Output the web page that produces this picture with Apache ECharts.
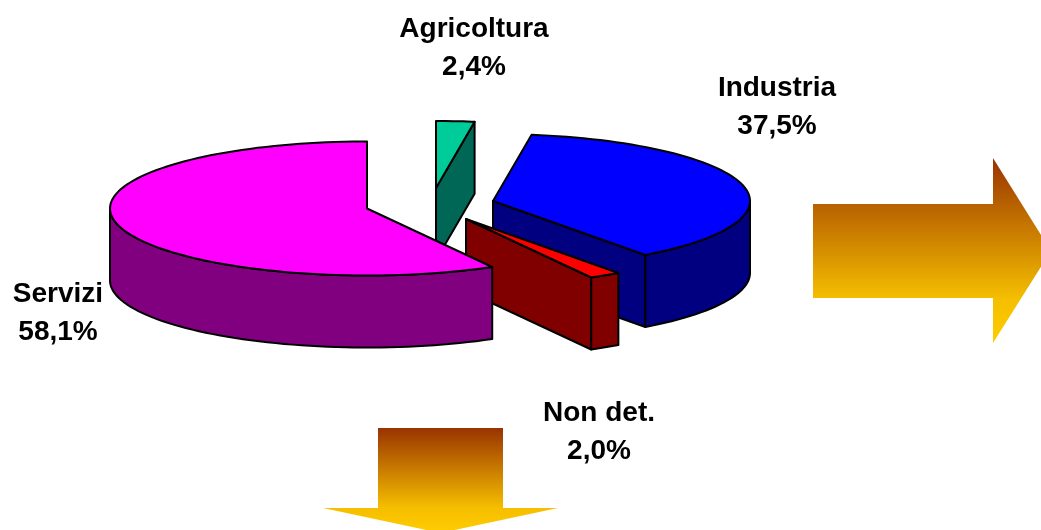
<!DOCTYPE html>
<html>
<head>
<meta charset="utf-8">
<title>Settori</title>
<script src="https://cdn.jsdelivr.net/npm/echarts@6/dist/echarts.min.js"></script>
<style>
    html, body { margin: 0; padding: 0; background: #fff; }
    #chart { width: 1041px; height: 530px; }
</style>
</head>
<body>
<div id="chart"></div>
<script>
// data, clockwise from 12 o'clock
var categories = ['Agricoltura', 'Industria', 'Non det.', 'Servizi'];
var shares = [2.4, 37.5, 2.0, 58.1];

// colours and layout, one entry per slice
var top_colors = ['#00CC99', '#0000FF', '#FF0000', '#FF00FF'];
var side_colors = ['#006655', '#000080', '#800000', '#800080'];
var apex_x = [436, 493, 466, 367];
var apex_y = [188, 201, 219, 208.5];
var label_x = [474, 777, 599, 58];
var label_y = [48, 107, 432, 313];

var rx = 257;
var ry = 67;
var depth = 72;

// clockwise angle from the top, projected on the pie ellipse
function rim(cx, cy, deg, drop) {
    var a = deg * Math.PI / 180;
    return [cx + rx * Math.sin(a), cy - ry * Math.cos(a) + drop];
}

function arc(cx, cy, from, to, drop) {
    var pts = [];
    for (var d = from; d < to; d += 2) {
        pts.push(rim(cx, cy, d, drop));
    }
    pts.push(rim(cx, cy, to, drop));
    return pts;
}

function poly(points, fill) {
    return {
        type: 'polygon',
        shape: { points: points },
        style: { fill: fill, stroke: '#000', lineWidth: 2, lineJoin: 'round' }
    };
}

function renderSlice(params, api) {
    var i = params.dataIndex;
    var start = 0;
    for (var j = 0; j < i; j++) {
        start += shares[j] * 3.6;
    }
    var end = start + api.value(0) * 3.6;
    var cx = apex_x[i];
    var cy = apex_y[i];
    var kids = [];

    // cut wall, only where it faces the viewer
    if (Math.sin(end * Math.PI / 180) > 0.001) {
        var p = rim(cx, cy, end, 0);
        kids.push(poly([[cx, cy], p, [p[0], p[1] + depth], [cx, cy + depth]], side_colors[i]));
    }
    // outer wall, front half of the ellipse
    var from = Math.max(start, 90);
    var to = Math.min(end, 270);
    if (to > from) {
        kids.push(poly(arc(cx, cy, from, to, 0).concat(arc(cx, cy, from, to, depth).reverse()), side_colors[i]));
    }
    kids.push(poly([[cx, cy]].concat(arc(cx, cy, start, end, 0)), top_colors[i]));

    kids.push({
        type: 'text',
        z2: 10,
        style: {
            text: categories[i] + '\n' + api.value(0).toFixed(1).replace('.', ',') + '%',
            x: label_x[i],
            y: label_y[i],
            align: 'center',
            verticalAlign: 'middle',
            fill: '#000',
            font: 'bold 28px "Liberation Sans", Arial, sans-serif',
            lineHeight: 38
        }
    });
    return { type: 'group', children: kids };
}

// gold arrows
function goldFill() {
    return {
        type: 'linear', x: 0, y: 0, x2: 0, y2: 1,
        colorStops: [
            { offset: 0, color: '#993300' },
            { offset: 0.76, color: '#F5BE00' },
            { offset: 1, color: '#FFCC00' }
        ]
    };
}

var myChart = echarts.init(document.getElementById('chart'));
var option = {
    animation: false,
    backgroundColor: '#fff',
    graphic: [
        {
            type: 'polygon',
            shape: { points: [[813, 204], [993, 204], [993, 158], [1051, 251], [993, 343], [993, 298], [813, 298]] },
            style: { fill: goldFill() }
        },
        {
            type: 'polygon',
            shape: { points: [[378, 428], [503, 428], [503, 508], [558, 508], [440.5, 533], [323, 508], [378, 508]] },
            style: { fill: goldFill() }
        }
    ],
    series: [{
        type: 'custom',
        coordinateSystem: 'none',
        silent: true,
        renderItem: renderSlice,
        data: shares.map(function (v) { return [v]; })
    }]
};
myChart.setOption(option);
</script>
</body>
</html>
